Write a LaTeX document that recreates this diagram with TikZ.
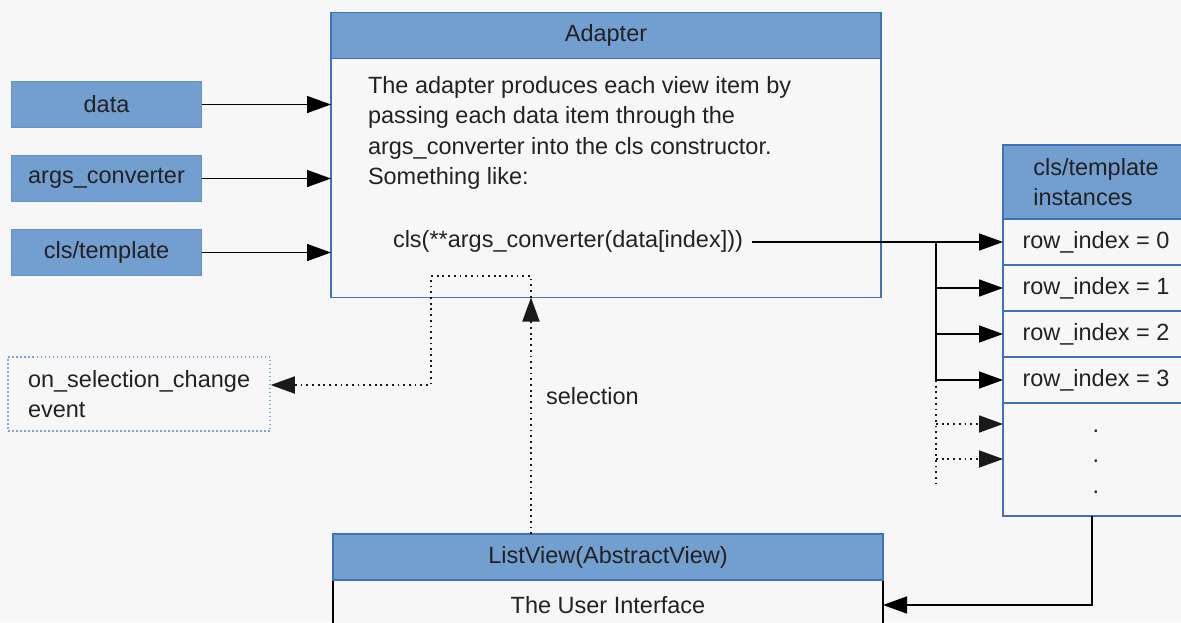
\documentclass[tikz,border=0pt]{standalone}
\usepackage{fontspec}
\setmainfont{Liberation Sans}
\usetikzlibrary{arrows.meta}
\definecolor{bg}{HTML}{F7F7F7}
\definecolor{headfill}{HTML}{729FCF}
\definecolor{blueline}{HTML}{3F72B8}
\definecolor{inedge}{HTML}{6592C9}
\definecolor{evblue}{HTML}{7BA3D6}
\definecolor{txt}{HTML}{222222}
\begin{document}
\begin{tikzpicture}[x=1pt,y=-1pt,
  font=\fontsize{23.5}{30.5}\selectfont, text=txt,
  box/.style={rectangle, draw=blueline, line width=1.5pt, inner sep=0pt, outer sep=0pt},
  headbox/.style={box, fill=headfill},
  rowbox/.style={box, fill=bg, minimum width=186pt, minimum height=46pt},
  inbox/.style={rectangle, fill=headfill, draw=inedge, line width=1pt, minimum width=190pt, minimum height=46pt, inner sep=0pt, outer sep=0pt},
  conn/.style={line width=1.5pt, draw=black},
  arr/.style={conn, -{Triangle[length=24pt,width=17pt]}},
  dotline/.style={line width=1.8pt, dash pattern=on 1.8pt off 3.9pt, draw=black!90},
  dotarr/.style={dotline, -{Triangle[length=24pt,width=17pt]}},
  plain/.style={inner sep=0pt, outer sep=0pt}
]
\useasboundingbox[fill=bg] (0,0) rectangle (1181,622);
\clip (0,0) rectangle (1181,622);

% Adapter
\node[headbox, minimum width=550pt, minimum height=46pt] (adhead) at (606,35.5) {Adapter};
\node[box, minimum width=550pt, minimum height=239pt, anchor=north] (adbody) at (adhead.south) {};
\node[plain, anchor=base west] (adl1) at (368,93) {The adapter produces each view item by};
\node[plain, anchor=base west] (adl2) at (368,123.5) {passing each data item through the};
\node[plain, anchor=base west] (adl3) at (368,154) {args\_converter into the cls constructor.};
\node[plain, anchor=base west] (adl4) at (368,184.5) {Something like:};
\node[plain, anchor=base west] (clsline) at (393,247) {cls(**args\_converter(data[index]))};

% inputs
\node[inbox] (data) at (106.5,104.5) {data};
\node[inbox] (args) at (106.5,178.5) {args\_converter};
\node[inbox] (cls) at (106.5,252.5) {cls/template};
\draw[arr] (data.east) -- (data.east -| adbody.west);
\draw[arr] (args.east) -- (args.east -| adbody.west);
\draw[arr] (cls.east) -- (cls.east -| adbody.west);

% instances
\node[headbox, minimum width=186pt, minimum height=74pt, align=left] (rhead) at (1096,182) {cls/template\\instances};
\node[rowbox, anchor=north] (r0) at (rhead.south) {row\_index = 0};
\node[rowbox, anchor=north] (r1) at (r0.south) {row\_index = 1};
\node[rowbox, anchor=north] (r2) at (r1.south) {row\_index = 2};
\node[rowbox, anchor=north] (r3) at (r2.south) {row\_index = 3};
\node[box, fill=bg, minimum width=186pt, minimum height=113pt, anchor=north] (rdots) at (r3.south) {};
\node[plain, anchor=base, align=center] (vdots) at (1096,493) {.\\.\\.};

% fan-out
\coordinate (br) at (936,0);
\draw[arr] ([xshift=9pt]clsline.east |- r0.west) -- (r0.west);
\draw[conn] (br |- r0.west) -- (br |- r3.west);
\draw[arr] (br |- r1.west) -- (r1.west);
\draw[arr] (br |- r2.west) -- (r2.west);
\draw[arr] (br |- r3.west) -- (r3.west);
\coordinate (brend) at (936,485);
\draw[dotline] (br |- r3.west) -- (brend);
\coordinate (d1) at (936,424);
\coordinate (d2) at (936,459);
\draw[dotarr] (d1) -- (d1 -| rdots.west);
\draw[dotarr] (d2) -- (d2 -| rdots.west);

% ListView
\node[rectangle, draw=black, line width=1.5pt, fill=bg, minimum width=550pt, minimum height=50pt, plain] (lvbody) at (608,605) {The User Interface};
\node[headbox, minimum width=550pt, minimum height=46pt, anchor=south] (lvhead) at (lvbody.north) {ListView(AbstractView)};
\draw[arr] ([xshift=-4pt]rdots.south) |- (lvbody.east);

% selection
\coordinate (selTop) at (531,297.5);
\draw[dotarr] (selTop |- lvhead.north) -- (selTop);
\node[plain, anchor=base west] (sel) at (546,404) {selection};

% event
\node[rectangle, draw=evblue, line width=1.5pt, dash pattern=on 1.5pt off 2.5pt, minimum width=262pt, minimum height=74pt, inner xsep=20pt, inner ysep=0pt, text width=222pt, align=left] (evt) at (139,394) {on\_selection\_change\\event};
\coordinate (evA) at (531,276);
\coordinate (evB) at (431,276);
\draw[dotarr] (selTop) -- (evA) -- (evB) |- ([yshift=9pt]evt.east);
\end{tikzpicture}
\end{document}
